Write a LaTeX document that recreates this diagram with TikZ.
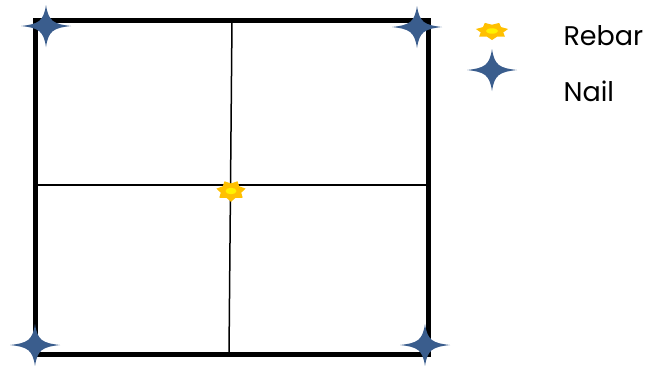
\documentclass[tikz,border=0pt]{standalone}
\usepackage{fontspec}
\setmainfont{Poppins}
\usepackage{xcolor}
\usepackage{tikz}
\definecolor{nlBlue}{HTML}{3A5D8D}
\definecolor{rbOrange}{HTML}{FFC000}
\definecolor{rbYellow}{HTML}{FFF200}
\definecolor{lnInk}{HTML}{000000}
\usetikzlibrary{calc}

\tikzset{
  nail/.pic={
    \fill[nlBlue] (-25,0) .. controls (-7,-2) and (-2.5,-5) .. (0,-21)
      .. controls (2.5,-5) and (7,-2) .. (25,0)
      .. controls (7,2) and (2.5,5) .. (0,21)
      .. controls (-2.5,5) and (-7,2) .. (-25,0) -- cycle;
  },
  rebar/.pic={
    \fill[rbOrange] (90:15) \foreach \k in {0,...,6} {
      -- ({90+\k*360/7+180/7}:10.5) -- ({90+(\k+1)*360/7}:15)} -- cycle;
    \fill[rbYellow] (0,0) ellipse (5.5 and 4.5);
  },
  legendtext/.style={anchor=west, font=\fontsize{27}{32}\selectfont}
}

\begin{document}
\begin{tikzpicture}[x=1pt, y=-1pt]
    \useasboundingbox (0,0) rectangle (650,365);
    % frame corners
    \coordinate (TL) at (35,20);
    \coordinate (TR) at (428,20);
    \coordinate (BR) at (428,354);
    \coordinate (BL) at (35,354);
    % grid lines
    \coordinate (VT) at (232,20);
    \coordinate (VB) at (229,354);
    \coordinate (HL) at (35,185);
    \coordinate (HR) at (428,185);
    \draw[lnInk, line width=1.5pt] (VT)--(VB);
    \draw[lnInk, line width=1.5pt] (HL)--(HR);
    \draw[lnInk, line width=5pt] (TL)--(TR)--(BR)--(BL)--cycle;
    % nails at the corners
    \pic at (46,26) {nail};
    \pic at (417,27) {nail};
    \pic at (35,345) {nail};
    \pic at (425,345) {nail};
    % rebar in the middle
    \pic[yscale=0.72] at (231,191) {rebar};
    % legend
    \pic[xscale=1.1, yscale=0.6] at (492,31) {rebar};
    \pic at (492,70) {nail};
    \node[legendtext] (rebarlbl) at (560,36) {Rebar};
    \node[legendtext] (naillbl) at (560,91) {Nail};
  \end{tikzpicture}
\end{document}
